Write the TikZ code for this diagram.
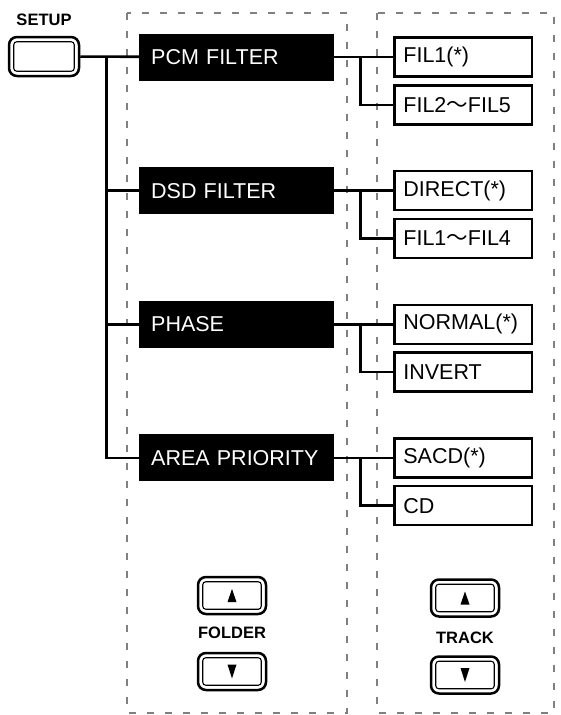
\documentclass[tikz,border=0pt]{standalone}
\usepackage{fontspec}
\setmainfont{Liberation Sans}
\newfontfamily\cjk{Noto Sans CJK JP}
\usetikzlibrary{positioning,calc}
\tikzset{menu/.style = {fill=black, text=white, text width=171pt, inner xsep=12pt, align=left, minimum height=47pt, font=\fontsize{21.5}{24}\selectfont},
         item/.style = {draw, line width=2.4pt, text width=120pt, inner xsep=8.8pt, align=left, minimum height=39pt, font=\fontsize{21.5}{24}\selectfont},
         wire/.style = {line width=2.6pt},
         panel/.style = {draw=black!50, line width=1.8pt, dash pattern=on 7pt off 11pt},
         key/.style = {draw, line width=2.5pt, rounded corners=8pt, minimum width=68pt, minimum height=37pt},
         keyin/.style = {line width=1.1pt, rounded corners=3pt},
         caption/.style = {font=\fontsize{16.5}{18}\selectfont\bfseries}}
\def\rowdist{133.6}
\def\forkdist{26}
\def\wave{{\cjk 〜}}

\begin{document}
\begin{tikzpicture}[x=1pt,y=-1pt]
\useasboundingbox (0,0) rectangle (560,715);

% dashed panels
\draw [panel] (127,13) rectangle (347,713);
\draw [panel] (377,13) rectangle (554,713);

\node (setup) [key,minimum width=70pt,minimum height=39pt] at (44,56.5) {};
\node (setuplabel) [caption] at (44,20) {SETUP};

\node (pcm) [menu,anchor=west] at (139,57) {PCM FILTER};
\path (pcm.west)+(0,\rowdist) node [menu,anchor=west] (dsd) {DSD FILTER};
\path (dsd.west)+(0,\rowdist) node [menu,anchor=west] (phase) {PHASE};
\path (phase.west)+(0,\rowdist) node [menu,anchor=west] (area) {AREA PRIORITY};

\node (fil1) [item,right=59pt of pcm] {FIL1(*)};
\node (fil25) [item,below=6.5pt of fil1] {FIL2\wave FIL5};
\node (direct) [item,right=59pt of dsd] {DIRECT(*)};
\node (fil14) [item,below=6.5pt of direct] {FIL1\wave FIL4};
\node (normal) [item,right=59pt of phase] {NORMAL(*)};
\node (invert) [item,below=6.5pt of normal] {INVERT};
\node (sacd) [item,right=59pt of area] {SACD(*)};
\node (cd) [item,below=6.5pt of sacd] {CD};

% Draw connections between nodes
\coordinate (split) at ([xshift=\forkdist pt]setup.east);
\draw [wire] (setup) -- (pcm);
\draw [wire] (split) |- (area);
\draw [wire] (split |- dsd) -- (dsd);
\draw [wire] (split |- phase) -- (phase);

\draw [wire] (pcm) -- (fil1);
\draw [wire] ([xshift=\forkdist pt]pcm.east) |- (fil25);
\draw [wire] (dsd) -- (direct);
\draw [wire] ([xshift=\forkdist pt]dsd.east) |- (fil14);
\draw [wire] (phase) -- (normal);
\draw [wire] ([xshift=\forkdist pt]phase.east) |- (invert);
\draw [wire] (area) -- (sacd);
\draw [wire] ([xshift=\forkdist pt]area.east) |- (cd);

% up/down keys
\node (folderup) [key] at (232,595.5) {};
\node (folderlabel) [caption] at (232,633) {FOLDER};
\node (folderdown) [key] at (232,671.5) {};
\node (trackup) [key] at (465,598) {};
\node (tracklabel) [caption] at (465,638) {TRACK};
\node (trackdown) [key] at (465,675) {};

\foreach \k in {setup,folderup,folderdown,trackup,trackdown}
  \draw [keyin] ([shift={(6,6)}]\k.north west) rectangle ([shift={(-6,-6)}]\k.south east);

\fill (folderup.center) +(-4.5,6.5) -- +(4.5,6.5) -- +(0,-6.5) -- cycle;
\fill (trackup.center) +(-4.5,6.5) -- +(4.5,6.5) -- +(0,-6.5) -- cycle;
\fill (folderdown.center) +(-4.5,-7) -- +(4.5,-7) -- +(0,7) -- cycle;
\fill (trackdown.center) +(-4.5,-7) -- +(4.5,-7) -- +(0,7) -- cycle;
\end{tikzpicture}
\end{document}
